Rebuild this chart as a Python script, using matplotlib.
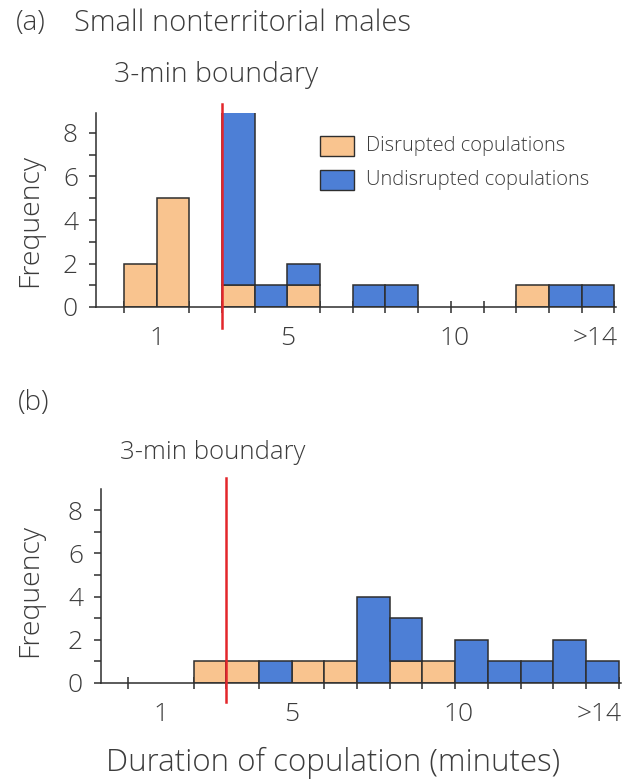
import matplotlib
matplotlib.use("Agg")
import matplotlib.pyplot as plt
from matplotlib.patches import Rectangle
import numpy as np

plt.rcParams['font.family'] = ['Open Sans', 'DejaVu Sans']
plt.rcParams['font.weight'] = 'light'

# left edges of the 1-min bins (minutes)
bin_left = list(range(15))

# (a) small nonterritorial males
a_disrupted = [2, 5, 0, 1, 0, 1, 0, 0, 0, 0, 0, 0, 1, 0, 0]
a_undisrupted = [0, 0, 0, 8, 1, 1, 0, 1, 1, 0, 0, 0, 0, 1, 1]

# (b)
b_disrupted = [0, 0, 1, 1, 0, 1, 1, 0, 1, 1, 0, 0, 0, 0, 0]
b_undisrupted = [0, 0, 0, 0, 1, 0, 0, 4, 2, 0, 2, 1, 1, 2, 1]

xtick_pos = [1, 5, 10.1, 14.4]
xtick_labels = ['1', '5', '10', '>14']
boundary = 3

ORANGE = '#f9c48f'
BLUE = '#4d7fd6'
EDGE = '#2e2e2e'
TXT = '#3c3c3c'
RED = '#e3262b'

W, H = 628, 784
fig = plt.figure(figsize=(W / 100, H / 100), dpi=100)


def px_axes(left, right, bottom, top):
    return fig.add_axes([left / W, 1 - bottom / H, (right - left) / W, (bottom - top) / H])


def draw_panel(ax, disrupted, undisrupted, xlim, ylim, red_span):
    d = np.array(disrupted)
    u = np.array(undisrupted)
    x = np.array(bin_left)
    m = d > 0
    ax.bar(x[m], d[m], width=1, align='edge', color=ORANGE, edgecolor=EDGE, linewidth=1.1, zorder=2)
    m = u > 0
    ax.bar(x[m], u[m], width=1, align='edge', bottom=d[m], color=BLUE, edgecolor=EDGE,
           linewidth=1.1, zorder=2)
    ax.plot([boundary, boundary], red_span, color=RED, lw=1.8, clip_on=False, zorder=4)

    ax.set_xlim(*xlim)
    ax.set_ylim(*ylim)
    for s in ['top', 'right']:
        ax.spines[s].set_visible(False)
    for s in ['left', 'bottom']:
        ax.spines[s].set_color(EDGE)
        ax.spines[s].set_linewidth(1.1)

    ax.set_xticks(range(16), minor=True)
    ax.set_xticks(xtick_pos)
    ax.set_xticklabels(xtick_labels)
    ax.tick_params(axis='x', which='major', length=0, pad=14, labelsize=19, labelcolor=TXT)
    ax.tick_params(axis='x', which='minor', direction='inout', length=9, width=1.1, color=EDGE)

    ax.set_yticks([0, 2, 4, 6, 8])
    ax.set_yticks([1, 3, 5, 7], minor=True)
    ax.tick_params(axis='y', which='both', direction='out', length=5, width=1.1, color=EDGE,
                   labelsize=19, labelcolor=TXT, pad=8)


ax_a = px_axes(96, 616, 307, 307 - 8.9 * 21.75)
draw_panel(ax_a, a_disrupted, a_undisrupted, (-0.85, 15.05), (0, 8.9), [-0.97, 9.35])

ax_b = px_axes(101, 621, 683, 683 - 9 * 21.6)
draw_panel(ax_b, b_disrupted, b_undisrupted, (-0.83, 15.07), (0, 9), [-0.88, 9.49])

# legend drawn by hand in panel (a)
for (yc, col, lab) in [(146, ORANGE, 'Disrupted copulations'), (180, BLUE, 'Undisrupted copulations')]:
    fig.patches.append(Rectangle((320 / W, 1 - (yc + 10) / H), 34 / W, 20 / H,
                                 transform=fig.transFigure, facecolor=col, edgecolor=EDGE, lw=1.0))
    fig.text(366 / W, 1 - yc / H, lab, fontsize=14.5, color=TXT, va='center', ha='left')

fig.text(16 / W, 1 - 23 / H, '(a)', fontsize=20, color=TXT, va='center')
fig.text(74 / W, 1 - 23 / H, 'Small nonterritorial males', fontsize=21, color=TXT, va='center')
fig.text(114 / W, 1 - 75 / H, '3-min boundary', fontsize=20.5, color=TXT, va='center')
fig.text(18 / W, 1 - 403 / H, '(b)', fontsize=20, color=TXT, va='center')
fig.text(120 / W, 1 - 453 / H, '3-min boundary', fontsize=18.5, color=TXT, va='center')

fig.text(30 / W, 1 - 220 / H, 'Frequency', fontsize=20.5, color=TXT, rotation=90, va='center', ha='center')
fig.text(30 / W, 1 - 590 / H, 'Frequency', fontsize=20.5, color=TXT, rotation=90, va='center', ha='center')
fig.text(333 / W, 1 - 763 / H, 'Duration of copulation (minutes)', fontsize=22.5, color=TXT,
         va='center', ha='center')

fig.savefig('out.png', dpi=100)
